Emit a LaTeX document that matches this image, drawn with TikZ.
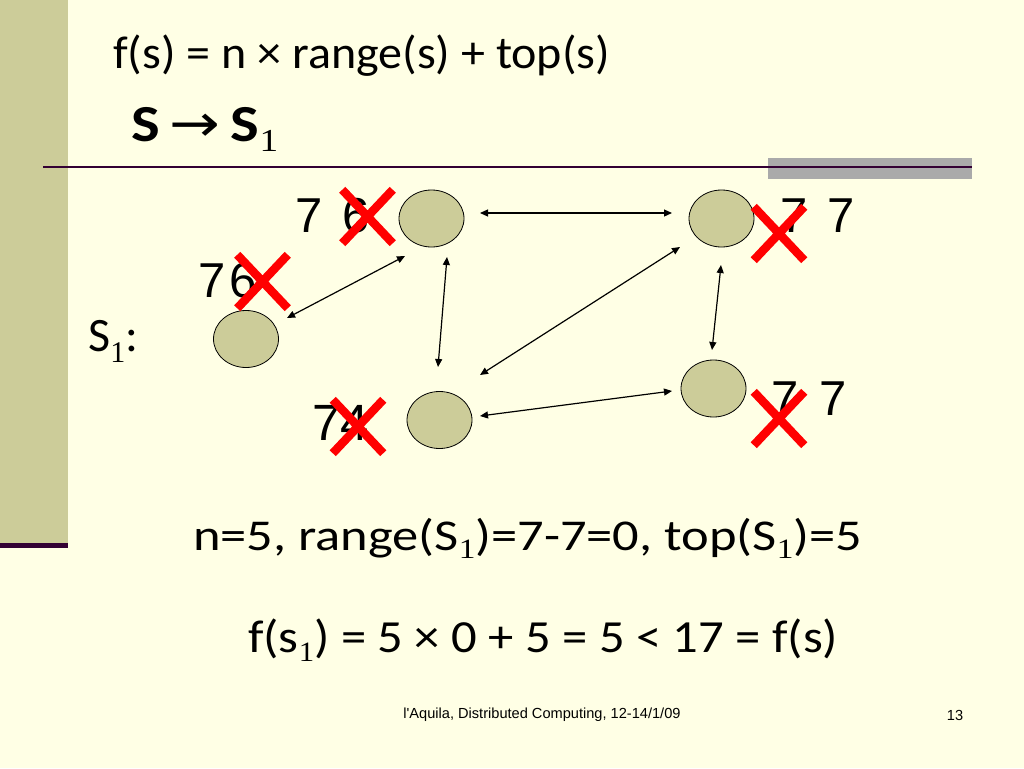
\documentclass[tikz,border=0pt]{standalone}
\usepackage{fontspec}
\usepackage{graphicx}
\setmainfont{Liberation Sans}
\newfontfamily\comic{Carlito}
\newfontfamily\dejavu{DejaVu Sans}
\newfontfamily\seriff{Liberation Serif}
\usetikzlibrary{shapes.misc,shapes.geometric,arrows.meta}
\definecolor{bgc}{RGB}{255,255,229}
\definecolor{olivec}{RGB}{204,204,153}
\definecolor{plum}{RGB}{51,0,51}
\definecolor{barg}{RGB}{170,170,170}
\definecolor{ellf}{RGB}{204,204,153}
\newcommand\subone[2]{\raisebox{-#2pt}{\seriff\mdseries\fontsize{#1}{#1}\selectfont 1}}
\begin{document}
\begin{tikzpicture}[x=1pt,y=-1pt,
  st/.style={ellipse,draw=black,fill=ellf,minimum width=65pt,minimum height=57pt,inner sep=0pt,line width=0.8pt},
  conn/.style={{Triangle[length=8pt,width=7pt]}-{Triangle[length=8pt,width=7pt]},line width=1.2pt},
  xmark/.style={cross out,draw=red,line width=8.5pt,minimum width=42pt,minimum height=45pt,inner sep=0pt},
  lbl/.style={anchor=base west,inner sep=0pt,font=\fontsize{49}{49}\selectfont},
  txt/.style={anchor=base west,inner sep=0pt}]
\fill[bgc] (0,0) rectangle (1024,768);
\useasboundingbox (0,0) rectangle (1024,768);
% left strip
\fill[olivec] (0,0) rectangle (68,543);
\fill[plum] (0,543) rectangle (68,548);
% top rule
\fill[barg] (768,158) rectangle (972,179);
\draw[plum,line width=2pt] (43,167) -- (972,167);
% titles
\node[txt] (f1) at (113,68) {\resizebox{497pt}{\height}{\comic\fontsize{46}{46}\selectfont f(s) = n × range(s) + top(s)}};
\node[txt] (f2) at (131,141) {\resizebox{147pt}{\height}{\comic\bfseries\fontsize{52}{52}\selectfont S\,{\dejavu\mdseries →}\,S\subone{32}{10}}};
\node[txt] (s1) at (88,351) {\comic\fontsize{48}{48}\selectfont S\subone{30}{11}:};
% nodes
\node[st] (A) at (431.5,218.5) {};
\node[st] (B) at (721.5,218.5) {};
\node[st] (C) at (246,339) {};
\node[st] (D) at (439.5,420) {};
\node[st] (E) at (713.5,388.5) {};
% connectors
\draw[conn] ([shift={(48.5,-5.5)}]A.center) -- ([shift={(-49.5,-5.5)}]B.center);
\draw[conn] ([shift={(-26.5,37.5)}]A.center) -- ([shift={(41,-21)}]C.center);
\draw[conn] ([shift={(15.5,38.5)}]A.center) -- ([shift={(-1.5,-53)}]D.center);
\draw[conn] ([shift={(-41.5,28.5)}]B.center) -- ([shift={(40.5,-45)}]D.center);
\draw[conn] ([shift={(40.5,-4)}]D.center) -- ([shift={(-41.5,2.5)}]E.center);
\draw[conn] ([shift={(-0.5,46.5)}]B.center) -- ([shift={(-1.5,-38.5)}]E.center);
% value labels
\node[lbl] (la) at (295,232) {7\hspace{20pt}6};
\node[lbl] (lc) at (198,297) {7\hspace{4pt}6};
\node[lbl,font=\fontsize{51}{51}\selectfont] (ld) at (312,440) {74};
\node[lbl] (lb) at (780,232) {7\hspace{20pt}7};
\node[lbl] (le) at (771,415) {7\hspace{21pt}7};
% crosses
\node[xmark] (xa) at (367.5,216.5) {};
\node[xmark] (xc) at (262.5,281.5) {};
\node[xmark] (xd) at (358,426.5) {};
\node[xmark] (xb) at (779,233.5) {};
\node[xmark] (xe) at (779,418.5) {};
% bottom formulas
\node[txt] (f3) at (193,550) {\resizebox{669pt}{\height}{\comic\fontsize{44}{44}\selectfont n=5, range(S\subone{28}{8})=7-7=0, top(S\subone{28}{8})=5}};
\node[txt] (f4) at (248,652) {\resizebox{590pt}{\height}{\comic\fontsize{46}{46}\selectfont f(s\subone{28}{9}) = 5 × 0 + 5 = 5 < 17 = f(s)}};
% footer
\node[font=\fontsize{14.6}{14.6}\selectfont] (foot) at (542,715) {l\textquotesingle Aquila, Distributed Computing, 12-14/1/09};
\node[font=\fontsize{14.6}{14.6}\selectfont] (pg) at (955,715) {13};
\end{tikzpicture}
\end{document}
